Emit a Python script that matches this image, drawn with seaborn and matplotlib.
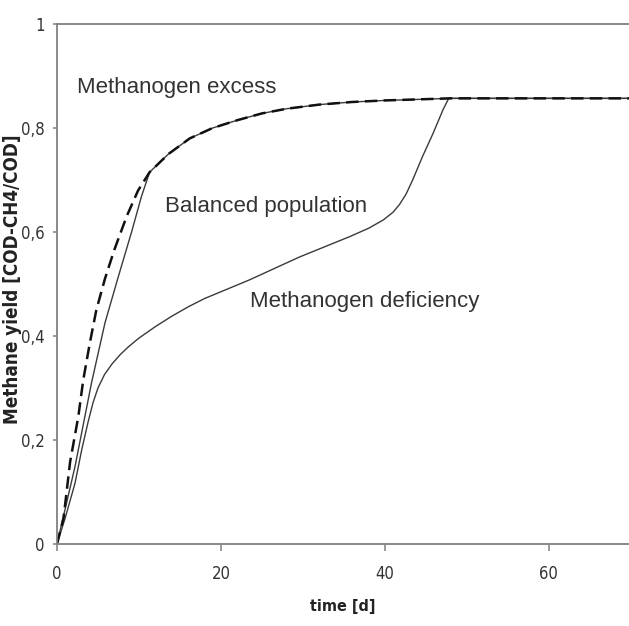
import numpy as np
import pandas as pd
import matplotlib.pyplot as plt
import seaborn as sns

# curves (time in days, methane yield)
excess_t = [0, 0.8, 1.6, 2.6, 3.2, 4.0, 4.8, 5.85, 7.0, 8.5, 9.9, 11.3, 13.6, 16.2,
            19, 22, 25, 28, 32, 36, 40, 44, 48, 55, 62, 70]
excess_y = [0, 0.05, 0.158, 0.245, 0.315, 0.386, 0.45, 0.51, 0.566, 0.63, 0.68, 0.715, 0.75, 0.78,
            0.80, 0.815, 0.828, 0.837, 0.845, 0.85, 0.853, 0.855, 0.857, 0.857, 0.857, 0.857]

balanced_t = [0, 2.2, 4.2, 5.85, 7.5, 9.1, 10.3, 11.3, 13.6, 16.2,
              19, 22, 25, 28, 32, 36, 40, 44, 48, 55, 62, 70]
balanced_y = [0, 0.149, 0.309, 0.425, 0.515, 0.6, 0.668, 0.715, 0.75, 0.78,
              0.80, 0.815, 0.828, 0.837, 0.845, 0.85, 0.853, 0.855, 0.857, 0.857, 0.857, 0.857]

deficiency_t = [0, 1.0, 2.2, 3.0, 3.8, 4.4, 5.0, 5.8, 6.7, 7.7, 8.7, 10, 12, 14, 16, 18,
                23.5, 29.6, 35.7, 38.0, 39.8, 41.0, 41.8, 42.6, 43.4, 44.6, 45.9, 47.1,
                47.8, 55, 62, 70]
deficiency_y = [0, 0.05, 0.117, 0.18, 0.235, 0.272, 0.3, 0.326, 0.346, 0.364, 0.379, 0.396,
                0.418, 0.438, 0.456, 0.472, 0.508, 0.552, 0.591, 0.607, 0.623, 0.638, 0.653,
                0.673, 0.70, 0.745, 0.79, 0.835, 0.857, 0.857, 0.857, 0.857]

curve_labels = ["Methanogen excess", "Balanced population", "Methanogen deficiency"]
label_pos_t = [2.4, 13.2, 23.5]
label_pos_y = [0.867, 0.638, 0.456]

xticks = [0, 20, 40, 60]
yticks = [0, 0.2, 0.4, 0.6, 0.8, 1.0]
ytick_labels = ["0", "0,2", "0,4", "0,6", "0,8", "1"]

sns.set_style("white")
plt.rcParams['font.family'] = ['Liberation Sans', 'DejaVu Sans']

fig = plt.figure(figsize=(6.29, 6.26), dpi=100)
ax = fig.add_axes([57 / 629, 82 / 626, 572 / 629, 520 / 626])

sns.lineplot(x=deficiency_t, y=deficiency_y, ax=ax, color="#3a3a3a", linewidth=1.0)
sns.lineplot(x=balanced_t, y=balanced_y, ax=ax, color="#3a3a3a", linewidth=1.0)
sns.lineplot(x=excess_t, y=excess_y, ax=ax, color="#111111", linewidth=1.8,
             linestyle=(0, (5, 2.5)))

for lab, tx, ty in zip(curve_labels, label_pos_t, label_pos_y):
    ax.text(tx, ty, lab, fontsize=16, color="#333333", va="baseline", ha="left")

ax.set_xlim(0, 69.8)
ax.set_ylim(0, 1)
ax.set_xticks(xticks)
ax.set_yticks(yticks)
ax.set_xticklabels([str(v) for v in xticks])
ax.set_yticklabels(ytick_labels)

# narrow tick labels like the original
for lbl in ax.get_xticklabels() + ax.get_yticklabels():
    lbl.set_fontfamily('DejaVu Sans')
    lbl.set_fontstretch('condensed')
    lbl.set_fontsize(12)
    lbl.set_color("#333333")

ax.tick_params(axis='x', direction='out', length=5, width=1.1, color="#808080", pad=10, bottom=True)
ax.tick_params(axis='y', direction='out', length=3, width=1.1, color="#808080", pad=6, left=True)

for side in ['left', 'bottom', 'top']:
    ax.spines[side].set_color("#808080")
    ax.spines[side].set_linewidth(1.3)
ax.spines['right'].set_visible(False)

ax.set_xlabel("time [d]", fontsize=11.5, fontweight='bold', color="#222222",
              family='DejaVu Sans', fontstretch='condensed')
ax.set_ylabel("Methane yield [COD-CH4/COD]", fontsize=13.5, fontweight='bold', color="#222222",
              family='DejaVu Sans', fontstretch='condensed')
ax.xaxis.set_label_coords(0.5, -0.12)
ax.yaxis.set_label_coords(-0.078, 0.51)
ax.xaxis.label.set_va('center')
ax.yaxis.label.set_va('center')

fig.savefig("out.png", dpi=100)
